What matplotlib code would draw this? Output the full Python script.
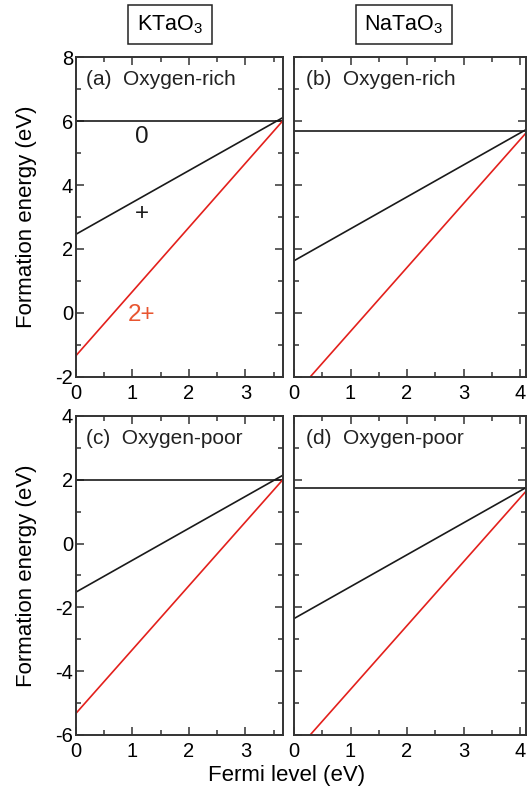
import matplotlib
matplotlib.use('Agg')
import matplotlib.pyplot as plt
from matplotlib.ticker import MultipleLocator

plt.rcParams['font.family'] = ['Liberation Sans', 'DejaVu Sans']
plt.rcParams['mathtext.fontset'] = 'custom'
plt.rcParams['mathtext.rm'] = 'Liberation Sans'
plt.rcParams['axes.unicode_minus'] = False

# band gaps (x-axis limits)
gap_k = 3.67
gap_na = 4.10

# formation energies at Fermi level = 0 and at the band-gap edge
# order: charge 0, +, 2+
a_start = [6.00, 2.46, -1.34]
a_end = [6.00, 6.12, 6.03]
b_start = [5.70, 1.63, -2.58]
b_end = [5.70, 5.73, 5.62]
c_start = [2.00, -1.52, -5.32]
c_end = [2.00, 2.15, 2.02]
d_start = [1.73, -2.35, -6.57]
d_end = [1.73, 1.75, 1.63]

panel_labels = ['(a)  Oxygen-rich', '(b)  Oxygen-rich', '(c)  Oxygen-poor', '(d)  Oxygen-poor']
line_colors = ['#1a1a1a', '#1a1a1a', '#e3201c']

W, H = 527, 790
fig = plt.figure(figsize=(W / 100, H / 100), dpi=100)

def ax_at(l, r, t, b):
    return fig.add_axes([l / W, 1 - b / H, (r - l) / W, (b - t) / H])

ax_a = ax_at(76, 283.3, 57.3, 376.7)
ax_b = ax_at(294, 525.7, 57.3, 376.7)
ax_c = ax_at(76, 283.3, 416, 735)
ax_d = ax_at(294, 525.7, 416, 735)

panels = [
    (ax_a, gap_k, a_start, a_end, (-2, 8)),
    (ax_b, gap_na, b_start, b_end, (-2, 8)),
    (ax_c, gap_k, c_start, c_end, (-6, 4)),
    (ax_d, gap_na, d_start, d_end, (-6, 4)),
]

for i, (ax, gap, e0, e1, ylim) in enumerate(panels):
    for j in range(3):
        ax.plot([0, gap], [e0[j], e1[j]], color=line_colors[j], lw=1.2)
    ax.set_xlim(0, gap)
    ax.set_ylim(*ylim)
    ax.xaxis.set_major_locator(MultipleLocator(1))
    ax.xaxis.set_minor_locator(MultipleLocator(0.5))
    ax.yaxis.set_major_locator(MultipleLocator(2))
    ax.yaxis.set_minor_locator(MultipleLocator(1))
    ax.tick_params(which='both', direction='in', top=True, right=True,
                   width=1.1, color='#333333', labelsize=14.5)
    ax.tick_params(axis='x', pad=5)
    ax.tick_params(axis='y', pad=2)
    ax.tick_params(which='major', length=6)
    ax.tick_params(which='minor', length=3.5)
    for s in ax.spines.values():
        s.set_linewidth(1.4)
        s.set_color('#333333')
    ax.text(0.05, 0.929, panel_labels[i], transform=ax.transAxes,
            fontsize=15, va='center', ha='left', color='#222222')
    if i % 2 == 1:
        ax.set_yticklabels([])

# y labels, one per row
fig.text(27 / W, 1 - 217 / H, 'Formation energy (eV)', fontsize=16,
         rotation=90, ha='center', va='center')
fig.text(27 / W, 1 - 575.5 / H, 'Formation energy (eV)', fontsize=16,
         rotation=90, ha='center', va='center')

# charge-state labels in panel (a)
ax_a.text(1.17, 5.52, '0', fontsize=17.5, ha='center', va='center', color='#1a1a1a')
ax_a.text(1.16, 3.1, '+', fontsize=17.5, ha='center', va='center', color='#1a1a1a')
ax_a.text(1.16, -0.07, '2+', fontsize=17.5, ha='center', va='center', color='#e85530')

fig.text(287 / W, 1 - 775 / H, 'Fermi level (eV)', fontsize=16, ha='center', va='center')

box = dict(boxstyle='square,pad=0.4', fc='white', ec='#222222', lw=1.1)
fig.text(170 / W, 1 - 24.5 / H, 'KTaO$_3$', fontsize=15.5, ha='center', va='center', bbox=box)
fig.text(404 / W, 1 - 24.5 / H, 'NaTaO$_3$', fontsize=15.5, ha='center', va='center', bbox=box)

fig.savefig('out.png', dpi=100)
